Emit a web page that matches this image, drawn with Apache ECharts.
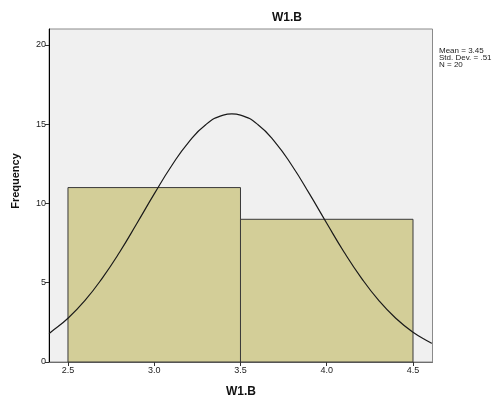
<!DOCTYPE html>
<html><head><meta charset="utf-8">
<script src="https://cdn.jsdelivr.net/npm/echarts@6/dist/echarts.min.js"></script>
<style>html,body{margin:0;padding:0;background:#fff;}#c{width:504px;height:398px;}</style>
</head><body><div id="c"></div>
<script>
const binStart = [2.5, 3.5];
const binEnd = [3.5, 4.5];
const counts = [11, 9];
const curveX = [2.39, 2.4, 2.5, 2.6, 2.7, 2.8, 2.9, 3.0, 3.1, 3.2, 3.3, 3.4, 3.45, 3.5, 3.6, 3.7, 3.8, 3.9, 4.0, 4.1, 4.2, 4.3, 4.4, 4.5, 4.6, 4.61];
const curveY = [1.80, 1.88, 2.76, 3.90, 5.31, 6.94, 8.75, 10.60, 12.36, 13.87, 14.98, 15.57, 15.65, 15.57, 14.98, 13.87, 12.36, 10.60, 8.75, 6.94, 5.31, 3.90, 2.76, 1.88, 1.23, 1.18];
const xTicks = [2.5, 3.0, 3.5, 4.0, 4.5];
const yTicks = [0, 5, 10, 15, 20];
const statsLines = ['Mean = 3.45', 'Std. Dev. = .51', 'N = 20'];
const title = 'W1.B';
const xName = 'W1.B';
const yName = 'Frequency';

const FONT = '"Liberation Sans", Arial, sans-serif';
const chart = echarts.init(document.getElementById('c'), null, {renderer: 'canvas'});
const barData = binStart.map((s, i) => [s, binEnd[i], counts[i]]);
chart.setOption({
  animation: false,
  backgroundColor: '#ffffff',
  grid: {left: 49, right: 71.5, top: 29, bottom: 36, show: true, backgroundColor: '#F0F0F0', borderColor: '#8a8a8a', borderWidth: 1},
  xAxis: {
    type: 'value', min: 2.39, max: 4.613,
    axisLine: {show: true, lineStyle: {color: '#6e6e6e', width: 1}},
    axisTick: {show: true, customValues: xTicks, length: 4, lineStyle: {color: '#333'}},
    axisLabel: {show: true, customValues: xTicks, formatter: v => v.toFixed(1), fontFamily: FONT, fontSize: 9, color: '#222', margin: 4},
    splitLine: {show: false}
  },
  yAxis: {
    type: 'value', min: 0, max: 21,
    axisLine: {show: true, lineStyle: {color: '#000', width: 1}},
    axisTick: {show: true, customValues: yTicks, length: 4, lineStyle: {color: '#333'}},
    axisLabel: {show: true, customValues: yTicks, fontFamily: FONT, fontSize: 9, color: '#222', margin: 3},
    splitLine: {show: false}
  },
  series: [
    {
      type: 'custom',
      data: barData,
      encode: {x: [0, 1], y: 2},
      renderItem: function (params, api) {
        const p0 = api.coord([api.value(0), 0]);
        const p1 = api.coord([api.value(1), api.value(2)]);
        return {
          type: 'rect',
          shape: {x: p0[0], y: p1[1], width: p1[0] - p0[0], height: p0[1] - p1[1]},
          style: {fill: '#D3CE98', stroke: '#3a3a3a', lineWidth: 1}
        };
      },
      z: 2
    },
    {
      type: 'line',
      data: curveX.map((x, i) => [x, curveY[i]]),
      smooth: true,
      showSymbol: false,
      lineStyle: {color: '#1a1a1a', width: 1.2},
      clip: true,
      z: 3
    }
  ],
  graphic: [
    {type: 'text', x: 287, y: 18, style: {text: title, font: 'bold 12px ' + FONT, fill: '#111', align: 'center', verticalAlign: 'middle'}},
    {type: 'text', x: 241, y: 392, style: {text: xName, font: 'bold 12px ' + FONT, fill: '#111', align: 'center', verticalAlign: 'middle'}},
    {type: 'text', x: 16, y: 181, rotation: Math.PI / 2, style: {text: yName, font: 'bold 11px ' + FONT, fill: '#111', align: 'center', verticalAlign: 'middle'}},
    {type: 'text', x: 439, y: 47, style: {text: statsLines[0], font: '8px ' + FONT, fill: '#222'}},
    {type: 'text', x: 439, y: 53.7, style: {text: statsLines[1], font: '8px ' + FONT, fill: '#222'}},
    {type: 'text', x: 439, y: 60.4, style: {text: statsLines[2], font: '8px ' + FONT, fill: '#222'}}
  ]
});
</script></body></html>
